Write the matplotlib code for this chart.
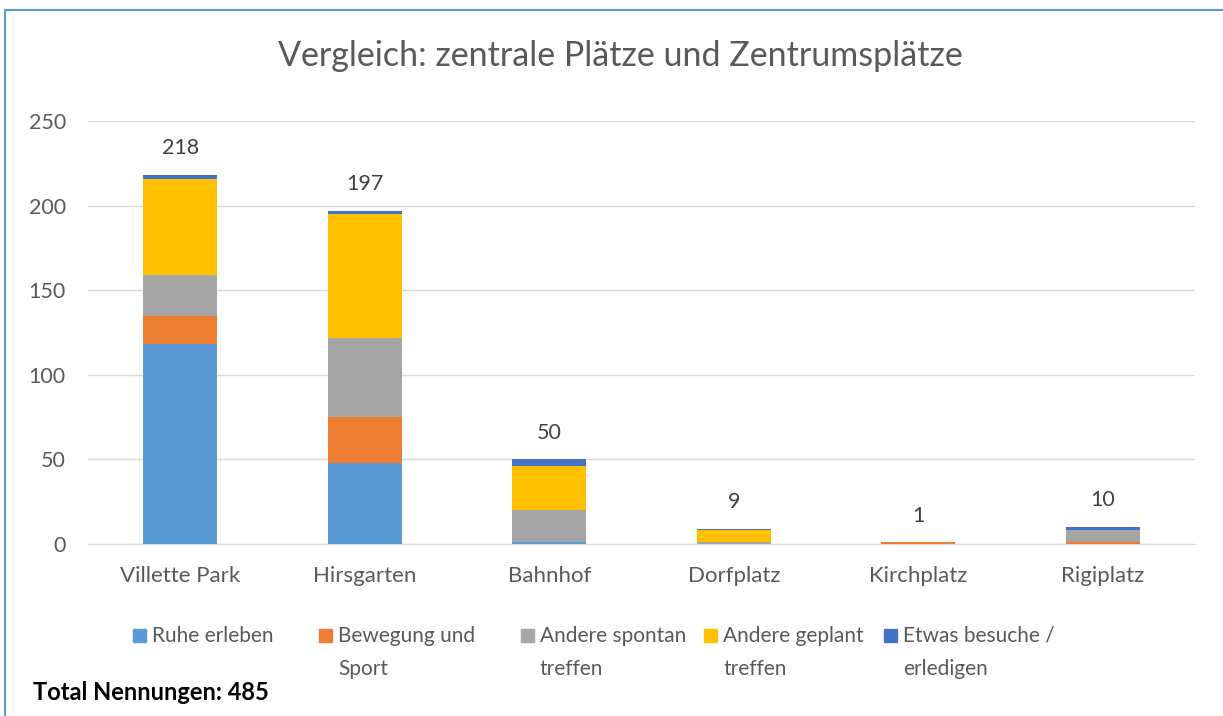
import numpy as np
import matplotlib.pyplot as plt
from matplotlib.patches import Rectangle
from matplotlib.lines import Line2D

plt.rcParams['font.family'] = ['Lato', 'DejaVu Sans']

# DATA
places = ['Villette Park', 'Hirsgarten', 'Bahnhof', 'Dorfplatz', 'Kirchplatz', 'Rigiplatz']
series = ['Ruhe erleben', 'Bewegung und\nSport', 'Andere spontan\ntreffen',
          'Andere geplant\ntreffen', 'Etwas besuche /\nerledigen']
ruhe = [118, 48, 1, 0, 0, 0]
bewegung = [17, 27, 0, 0, 1, 1]
spontan = [24, 47, 19, 1, 0, 7]
geplant = [57, 73, 26, 7, 0, 0]
etwas = [2, 2, 4, 1, 0, 2]
colors = ['#5B9BD5', '#ED7D31', '#A5A5A5', '#FFC000', '#4472C4']

TEXT = '#595959'

fig = plt.figure(figsize=(12.23, 7.16), dpi=100)
ax = fig.add_axes([88 / 1223, 1 - 544 / 716, (1195 - 88) / 1223, (544 - 121) / 716])

x = np.arange(len(places))
bottom = np.zeros(len(places))
for vals, col in zip([ruhe, bewegung, spontan, geplant, etwas], colors):
    ax.bar(x, vals, 0.4, bottom=bottom, color=col, zorder=3)
    bottom += np.array(vals)

# TOTAL LABELS
for xi, tot in zip(x, bottom):
    ax.annotate(f'{int(tot)}', (xi, tot), xytext=(0, 12), textcoords='offset points',
                ha='center', va='bottom', fontsize=15.5, color='#404040')

ax.set_xlim(-0.5, len(places) - 0.5)
ax.set_ylim(0, 250)
ax.set_yticks(range(0, 251, 50))
ax.set_xticks(x)
ax.set_xticklabels(places)
ax.grid(axis='y', color='#D9D9D9', linewidth=1, zorder=0)
for s in ['top', 'right', 'left']:
    ax.spines[s].set_visible(False)
ax.spines['bottom'].set_color('#D9D9D9')
ax.tick_params(axis='both', length=0, labelsize=15.5, labelcolor=TEXT)
ax.tick_params(axis='y', pad=16)
ax.tick_params(axis='x', labelsize=16, pad=16)

fig.text(0.507, 1 - 56 / 716, 'Vergleich: zentrale Plätze und Zentrumsplätze',
         ha='center', va='center', fontsize=24.5, color=TEXT)

# LEGEND (drawn by hand so wrapped labels hang from the first line)
leg_x = [133, 319, 521, 704, 884]
for lx, lab, col in zip(leg_x, series, colors):
    fig.patches.append(Rectangle((lx / 1223, 1 - 642 / 716), 13 / 1223, 13 / 716,
                                 transform=fig.transFigure, color=col))
    fig.text((lx + 19) / 1223, 1 - 626 / 716, lab, ha='left', va='top',
             fontsize=15, color=TEXT, linespacing=1.8)

fig.text(33 / 1223, 1 - 692 / 716, 'Total Nennungen: 485', ha='left', va='center',
         fontsize=17, fontweight='bold', color='black')

# FRAME
fig.add_artist(Line2D([5 / 1223, 5 / 1223], [0, 1 - 10 / 716], transform=fig.transFigure,
                      color='#5B9BD5', linewidth=1.5))
fig.add_artist(Line2D([5 / 1223, 1], [1 - 10 / 716, 1 - 10 / 716], transform=fig.transFigure,
                      color='#5B9BD5', linewidth=1.5))

fig.savefig('out.png', dpi=100)
